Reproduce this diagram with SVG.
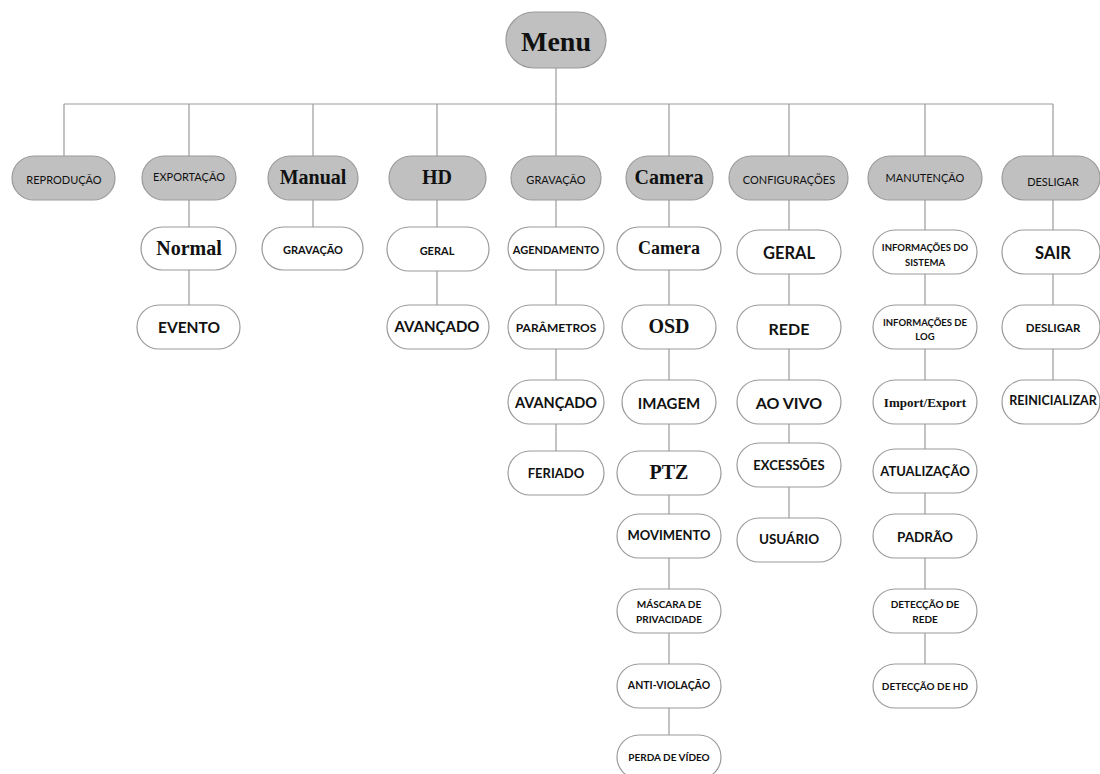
<svg xmlns="http://www.w3.org/2000/svg" width="1100" height="774" viewBox="0 0 1100 774">
<style>
.l1 rect{fill:#c0c0c0;stroke:#9a9a9a;stroke-width:1.2}
.sub rect{fill:#ffffff;stroke:#9a9a9a;stroke-width:1.2}
text{text-anchor:middle;dominant-baseline:central;fill:#111}
.s{font-family:Lato,"Liberation Sans",sans-serif}
.sr{font-family:"Liberation Serif",serif;font-weight:bold}
.b{font-weight:bold}
#conn line{stroke:#9a9a9a;stroke-width:1.2}
</style>
<rect width="1100" height="774" fill="#ffffff"/>
<g id="conn">
<line x1="556" y1="68" x2="556" y2="104"/>
<line x1="64" y1="104" x2="1053" y2="104"/>
<line x1="64" y1="104" x2="64" y2="156"/>
<line x1="189" y1="104" x2="189" y2="156"/>
<line x1="313" y1="104" x2="313" y2="156"/>
<line x1="437" y1="104" x2="437" y2="156"/>
<line x1="556" y1="104" x2="556" y2="156"/>
<line x1="669" y1="104" x2="669" y2="156"/>
<line x1="789" y1="104" x2="789" y2="156"/>
<line x1="925" y1="104" x2="925" y2="156"/>
<line x1="1053" y1="104" x2="1053" y2="156"/>
<line x1="189" y1="200" x2="189" y2="305"/>
<line x1="313" y1="200" x2="313" y2="227"/>
<line x1="437" y1="200" x2="437" y2="305"/>
<line x1="556" y1="200" x2="556" y2="451"/>
<line x1="669" y1="200" x2="669" y2="735"/>
<line x1="789" y1="200" x2="789" y2="518"/>
<line x1="925" y1="200" x2="925" y2="664"/>
<line x1="1053" y1="200" x2="1053" y2="380"/>
</g>
<g id="menu" class="l1"><rect x="506" y="12" width="100" height="56" rx="28"/><text x="556" y="41" class="sr" font-size="28">Menu</text></g>
<g id="reproducao" class="l1"><rect x="12" y="156" width="103" height="44" rx="22"/><text x="64" y="179" class="s" font-size="11">REPRODUÇÃO</text></g>
<g id="exportacao" class="l1"><rect x="142" y="156" width="94" height="44" rx="22"/><text x="189" y="176" class="s" font-size="11">EXPORTAÇÃO</text></g>
<g id="manual" class="l1"><rect x="268" y="156" width="90" height="44" rx="22"/><text x="313" y="177" class="sr" font-size="20">Manual</text></g>
<g id="hd" class="l1"><rect x="389" y="156" width="97" height="44" rx="22"/><text x="437" y="177" class="sr" font-size="20">HD</text></g>
<g id="gravacao" class="l1"><rect x="511" y="156" width="90" height="44" rx="22"/><text x="556" y="179" class="s" font-size="11">GRAVAÇÃO</text></g>
<g id="camera" class="l1"><rect x="626" y="156" width="87" height="44" rx="22"/><text x="669" y="177" class="sr" font-size="20">Camera</text></g>
<g id="configuracoes" class="l1"><rect x="729" y="156" width="119" height="44" rx="22"/><text x="789" y="179" class="s" font-size="11">CONFIGURAÇÕES</text></g>
<g id="manutencao" class="l1"><rect x="868" y="156" width="114" height="44" rx="22"/><text x="925" y="177" class="s" font-size="11">MANUTENÇÃO</text></g>
<g id="desligar" class="l1"><rect x="1002" y="156" width="98" height="44" rx="22"/><text x="1053" y="181" class="s" font-size="11">DESLIGAR</text></g>

<g id="exp-normal" class="sub"><rect x="141" y="227" width="95" height="43" rx="21.5"/><text x="189" y="248" class="sr" font-size="20">Normal</text></g>
<g id="exp-evento" class="sub"><rect x="137" y="305" width="103" height="44" rx="22"/><text x="189" y="327" class="s b" font-size="15.5">EVENTO</text></g>
<g id="man-gravacao" class="sub"><rect x="262" y="227" width="101" height="43" rx="21.5"/><text x="313" y="249" class="s b" font-size="11">GRAVAÇÃO</text></g>
<g id="hd-geral" class="sub"><rect x="387" y="227" width="102" height="44" rx="22"/><text x="437" y="250" class="s b" font-size="11">GERAL</text></g>
<g id="hd-avancado" class="sub"><rect x="387" y="305" width="102" height="44" rx="22"/><text x="437" y="326" class="s b" font-size="15">AVANÇADO</text></g>

<g id="grav-agendamento" class="sub"><rect x="508" y="227" width="96" height="43" rx="21.5"/><text x="556" y="249" class="s b" font-size="11">AGENDAMENTO</text></g>
<g id="grav-parametros" class="sub"><rect x="508" y="305" width="96" height="44" rx="22"/><text x="556" y="327" class="s b" font-size="12">PARÂMETROS</text></g>
<g id="grav-avancado" class="sub"><rect x="508" y="380" width="96" height="44" rx="22"/><text x="556" y="402" class="s b" font-size="14.5">AVANÇADO</text></g>
<g id="grav-feriado" class="sub"><rect x="508" y="451" width="96" height="44" rx="22"/><text x="556" y="473" class="s b" font-size="13">FERIADO</text></g>

<g id="cam-camera" class="sub"><rect x="617" y="227" width="104" height="43" rx="21.5"/><text x="669" y="248" class="sr" font-size="18">Camera</text></g>
<g id="cam-osd" class="sub"><rect x="622" y="305" width="94" height="44" rx="22"/><text x="669" y="326" class="sr" font-size="20">OSD</text></g>
<g id="cam-imagem" class="sub"><rect x="622" y="380" width="94" height="44" rx="22"/><text x="669" y="403" class="s b" font-size="15">IMAGEM</text></g>
<g id="cam-ptz" class="sub"><rect x="617" y="451" width="104" height="44" rx="22"/><text x="669" y="472" class="sr" font-size="20">PTZ</text></g>
<g id="cam-movimento" class="sub"><rect x="617" y="514" width="104" height="44" rx="22"/><text x="669" y="535" class="s b" font-size="13">MOVIMENTO</text></g>
<g id="cam-mascara" class="sub"><rect x="617" y="589" width="104" height="44" rx="22"/><text x="669" y="604" class="s b" font-size="10">MÁSCARA DE</text><text x="669" y="619" class="s b" font-size="10">PRIVACIDADE</text></g>
<g id="cam-antiviolacao" class="sub"><rect x="617" y="664" width="104" height="44" rx="22"/><text x="669" y="685" class="s b" font-size="10.5">ANTI-VIOLAÇÃO</text></g>
<g id="cam-perda" class="sub"><rect x="617" y="735" width="104" height="44" rx="22"/><text x="669" y="757" class="s b" font-size="10">PERDA DE VÍDEO</text></g>

<g id="cfg-geral" class="sub"><rect x="737" y="230" width="104" height="44" rx="22"/><text x="789" y="253" class="s b" font-size="16.5">GERAL</text></g>
<g id="cfg-rede" class="sub"><rect x="737" y="305" width="104" height="44" rx="22"/><text x="789" y="328" class="s b" font-size="16">REDE</text></g>
<g id="cfg-aovivo" class="sub"><rect x="737" y="380" width="104" height="44" rx="22"/><text x="789" y="402" class="s b" font-size="16">AO VIVO</text></g>
<g id="cfg-excessoes" class="sub"><rect x="737" y="443" width="104" height="44" rx="22"/><text x="789" y="465" class="s b" font-size="13">EXCESSÕES</text></g>
<g id="cfg-usuario" class="sub"><rect x="737" y="518" width="104" height="44" rx="22"/><text x="789" y="539" class="s b" font-size="13.5">USUÁRIO</text></g>

<g id="mnt-sistema" class="sub"><rect x="873" y="230" width="104" height="44" rx="22"/><text x="925" y="247" class="s b" font-size="9.5">INFORMAÇÕES DO</text><text x="925" y="262" class="s b" font-size="9.5">SISTEMA</text></g>
<g id="mnt-log" class="sub"><rect x="873" y="305" width="104" height="44" rx="22"/><text x="925" y="322" class="s b" font-size="9.5">INFORMAÇÕES DE</text><text x="925" y="336" class="s b" font-size="9.5">LOG</text></g>
<g id="mnt-import" class="sub"><rect x="873" y="380" width="104" height="44" rx="22"/><text x="925" y="402" class="sr" font-size="13">Import/Export</text></g>
<g id="mnt-atualizacao" class="sub"><rect x="873" y="449" width="104" height="44" rx="22"/><text x="925" y="471" class="s b" font-size="13">ATUALIZAÇÃO</text></g>
<g id="mnt-padrao" class="sub"><rect x="873" y="514" width="104" height="44" rx="22"/><text x="925" y="537" class="s b" font-size="13.5">PADRÃO</text></g>
<g id="mnt-rede" class="sub"><rect x="873" y="589" width="104" height="44" rx="22"/><text x="925" y="604" class="s b" font-size="10">DETECÇÃO DE</text><text x="925" y="619" class="s b" font-size="10">REDE</text></g>
<g id="mnt-hd" class="sub"><rect x="873" y="664" width="104" height="44" rx="22"/><text x="925" y="686" class="s b" font-size="10">DETECÇÃO DE HD</text></g>

<g id="des-sair" class="sub"><rect x="1002" y="230" width="98" height="44" rx="22"/><text x="1053" y="253" class="s b" font-size="16.5">SAIR</text></g>
<g id="des-desligar" class="sub"><rect x="1002" y="305" width="98" height="44" rx="22"/><text x="1053" y="327" class="s b" font-size="11.5">DESLIGAR</text></g>
<g id="des-reinicializar" class="sub"><rect x="1002" y="380" width="98" height="44" rx="22"/><text x="1053" y="400" class="s b" font-size="12.5">REINICIALIZAR</text></g>
</svg>
